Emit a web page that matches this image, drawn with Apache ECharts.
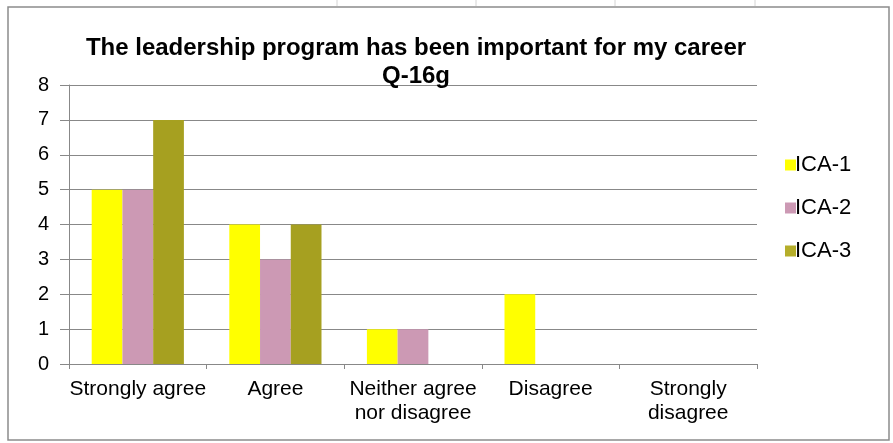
<!DOCTYPE html>
<html><head><meta charset="utf-8">
<script src="https://cdn.jsdelivr.net/npm/echarts@6/dist/echarts.min.js"></script>
<style>html,body{margin:0;padding:0;background:#fff}#c{width:893px;height:443px}</style>
</head><body><div id="c"></div>
<script>
const categories = ['Strongly agree', 'Agree', 'Neither agree\nnor disagree', 'Disagree', 'Strongly\ndisagree'];
const seriesNames = ['ICA-1', 'ICA-2', 'ICA-3'];
const ica1 = [5, 4, 1, 2, 0];
const ica2 = [5, 3, 1, 0, 0];
const ica3 = [7, 4, 0, 0, 0];
const yTicks = [0, 1, 2, 3, 4, 5, 6, 7, 8];
const colors = ['#FFFF00', '#CC99B4', '#A6A020'];
const legendColors = ['#FFFF00', '#CC99B4', '#B5AE2A'];

const chart = echarts.init(document.getElementById('c'));
const font = 'Liberation Sans, Arial, sans-serif';
const data = [ica1, ica2, ica3];
chart.setOption({
  backgroundColor: '#fff',
  animation: false,
  title: {
    text: 'The leadership program has been important for my career\nQ-16g',
    left: 411, textAlign: 'center', top: 29,
    textStyle: { fontFamily: font, fontWeight: 'bold', fontSize: 24, color: '#000', lineHeight: 28 }
  },
  legend: {
    orient: 'vertical', left: 780, top: 149, itemGap: 21,
    itemWidth: 11, itemHeight: 11, icon: 'rect',
    textStyle: { fontFamily: font, fontSize: 22, color: '#000', padding: [0, 0, 0, -6] },
    data: seriesNames.map((n, i) => ({ name: n, itemStyle: { color: legendColors[i] } }))
  },
  grid: { left: 69, right: 136, top: 85, bottom: 79 },
  xAxis: {
    type: 'category', data: categories,
    axisLine: { lineStyle: { color: '#888', width: 1 } },
    axisTick: { show: true, length: 5, lineStyle: { color: '#888' } },
    axisLabel: { fontFamily: font, fontSize: 21, color: '#000', lineHeight: 24, margin: 13, interval: 0 }
  },
  yAxis: {
    type: 'value', min: 0, max: 8, interval: 1,
    axisLine: { show: true, lineStyle: { color: '#888' } },
    axisTick: { show: true, length: 9, lineStyle: { color: '#888' } },
    axisLabel: { fontFamily: font, fontSize: 20, color: '#000', margin: 20,
      formatter: v => yTicks.includes(v) ? String(v) : '' },
    splitLine: { lineStyle: { color: '#888', width: 1 } }
  },
  series: seriesNames.map((n, i) => ({
    name: n, type: 'bar', data: data[i],
    barGap: '0%', barCategoryGap: '33%',
    itemStyle: { color: colors[i] }
  })),
  graphic: [
    { type: 'rect', shape: { x: 8, y: 7, width: 881, height: 433 }, style: { fill: 'none', stroke: '#8c8c8c', lineWidth: 1.5 }, z: 100 },
    { type: 'line', shape: { x1: 337, y1: 0, x2: 337, y2: 6 }, style: { stroke: '#d4d4d4' } },
    { type: 'line', shape: { x1: 476, y1: 0, x2: 476, y2: 6 }, style: { stroke: '#d4d4d4' } },
    { type: 'line', shape: { x1: 615, y1: 0, x2: 615, y2: 6 }, style: { stroke: '#d4d4d4' } },
    { type: 'line', shape: { x1: 755, y1: 0, x2: 755, y2: 6 }, style: { stroke: '#d4d4d4' } }
  ]
});
</script></body></html>
